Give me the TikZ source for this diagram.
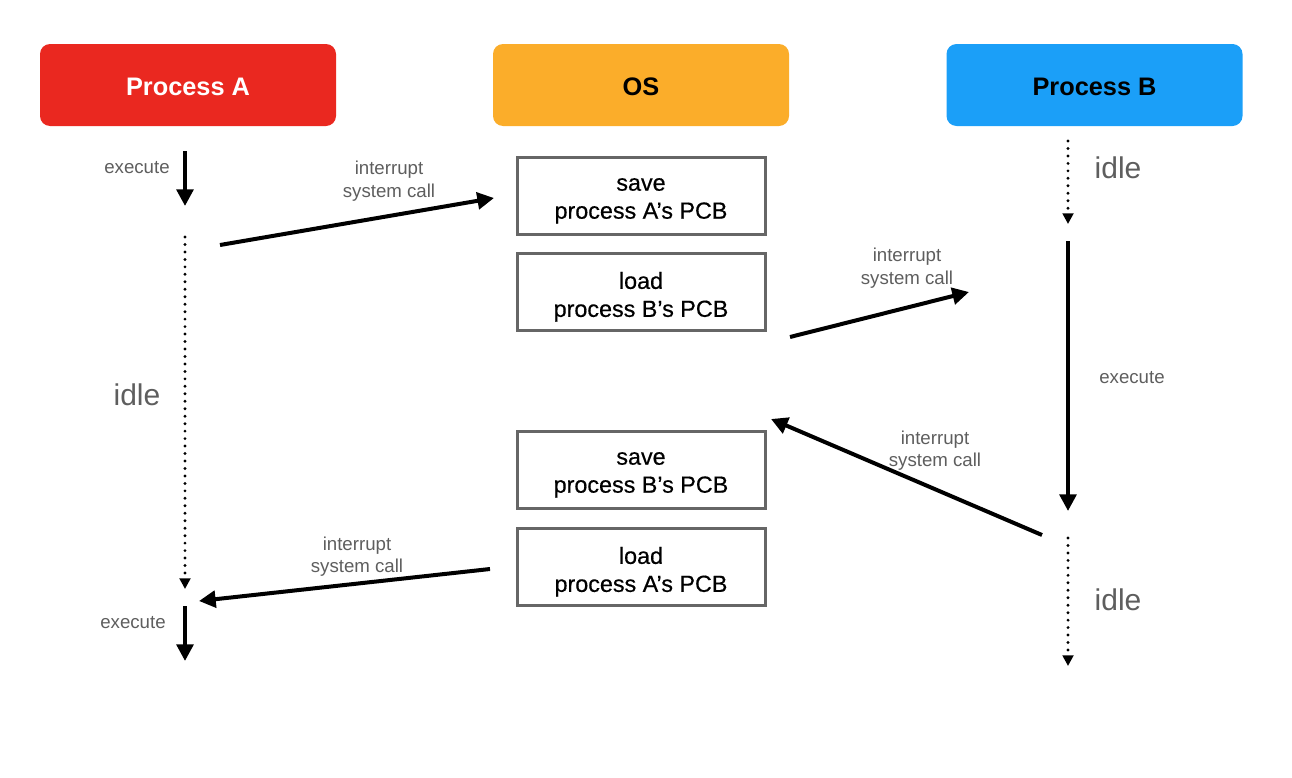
\documentclass[tikz,border=0pt]{standalone}
\usepackage{fontspec}
\setmainfont{Liberation Sans}
\newfontfamily\medfont[FakeBold=0.5]{Liberation Sans}
\usetikzlibrary{arrows.meta}
\definecolor{cA}{HTML}{EA2820}
\definecolor{cOS}{HTML}{FBAD2A}
\definecolor{cB}{HTML}{1B9FF8}
\definecolor{lbl}{HTML}{5E5E5E}
\definecolor{bd}{HTML}{666666}
\tikzset{
  header/.style={rounded corners=7.5pt, minimum width=222pt, minimum height=61.5pt, inner sep=0pt},
  headtext/.style={inner sep=0pt, yshift=-1.5pt, font=\fontsize{19}{22}\selectfont\bfseries},
  pcb/.style={draw=bd, line width=2.25pt, minimum width=186pt, minimum height=57.75pt, inner sep=0pt},
  pcbtext/.style={inner sep=0pt, align=center, yshift=-4pt, font=\medfont\fontsize{17.5}{21}\selectfont},
  small/.style={text=lbl, align=center, font=\fontsize{14}{17}\selectfont, inner sep=0pt},
  big/.style={text=lbl, font=\fontsize{22.5}{26}\selectfont, inner sep=0pt},
  solidarrow/.style={line width=3pt, -{Triangle[length=12.5pt,width=12.5pt]}},
  dotarrow/.style={line width=2.4pt, line cap=round, dash pattern=on 0pt off 5.6pt, -{Triangle[length=8pt,width=8pt]}}
}
\begin{document}
\begin{tikzpicture}[x=0.75pt,y=-0.75pt]
\useasboundingbox (0,0) rectangle (1292,778);
% headers
\node[header, fill=cA, label={[headtext, text=white]center:Process A}] (pa) at (188,85) {};
\node[header, fill=cOS, label={[headtext, text=black]center:OS}] (os) at (641,85) {};
\node[header, fill=cB, label={[headtext, text=black]center:Process B}] (pb) at (1094.5,85) {};
% PCB boxes
\node[pcb, label={[pcbtext]center:{save\\process A’s PCB}}] (saveA) at (641,195.5) {};
\node[pcb, label={[pcbtext]center:{load\\process B’s PCB}}] (loadB) at (641,291.5) {};
\node[pcb, label={[pcbtext]center:{save\\process B’s PCB}}] (saveB) at (641,469.5) {};
\node[pcb, label={[pcbtext]center:{load\\process A’s PCB}}] (loadA) at (641,566.5) {};
% coordinates of timelines
\coordinate (a1s) at (185,151);
\coordinate (a1e) at (185,206);
\coordinate (a2s) at (185,237);
\coordinate (a2e) at (185,589);
\coordinate (a3s) at (185,606);
\coordinate (a3e) at (185,661);
\coordinate (b1s) at (1068,141);
\coordinate (b1e) at (1068,224);
\coordinate (b2s) at (1068,241);
\coordinate (b2e) at (1068,511);
\coordinate (b3s) at (1068,538);
\coordinate (b3e) at (1068,666);
% process A timeline
\draw[solidarrow] (a1s) -- (a1e);
\draw[dotarrow] (a2s) -- (a2e);
\draw[solidarrow] (a3s) -- (a3e);
% process B timeline
\draw[dotarrow] (b1s) -- (b1e);
\draw[solidarrow] (b2s) -- (b2e);
\draw[dotarrow] (b3s) -- (b3e);
% interrupt arrows
\coordinate (i1s) at (220,245);
\coordinate (i1e) at (494,198);
\coordinate (i2s) at (790,337);
\coordinate (i2e) at (969,292);
\coordinate (i3s) at (1042,535);
\coordinate (i3e) at (771,419);
\coordinate (i4s) at (490,569);
\coordinate (i4e) at (199,601);
\draw[solidarrow] (i1s) -- (i1e);
\draw[solidarrow] (i2s) -- (i2e);
\draw[solidarrow] (i3s) -- (i3e);
\draw[solidarrow] (i4s) -- (i4e);
% labels
\node[small] (l1) at (389,181.5) {interrupt\\system call};
\node[small] (l2) at (907,268.5) {interrupt\\system call};
\node[small] (l3) at (935,450.5) {interrupt\\system call};
\node[small] (l4) at (357,556.5) {interrupt\\system call};
\node[small] (ex1) at (137,168) {execute};
\node[small] (ex2) at (133,623) {execute};
\node[small] (ex3) at (1132,378) {execute};
\node[big] (id1) at (137,395) {idle};
\node[big] (id2) at (1118,168) {idle};
\node[big] (id3) at (1118,600) {idle};
\end{tikzpicture}
\end{document}
